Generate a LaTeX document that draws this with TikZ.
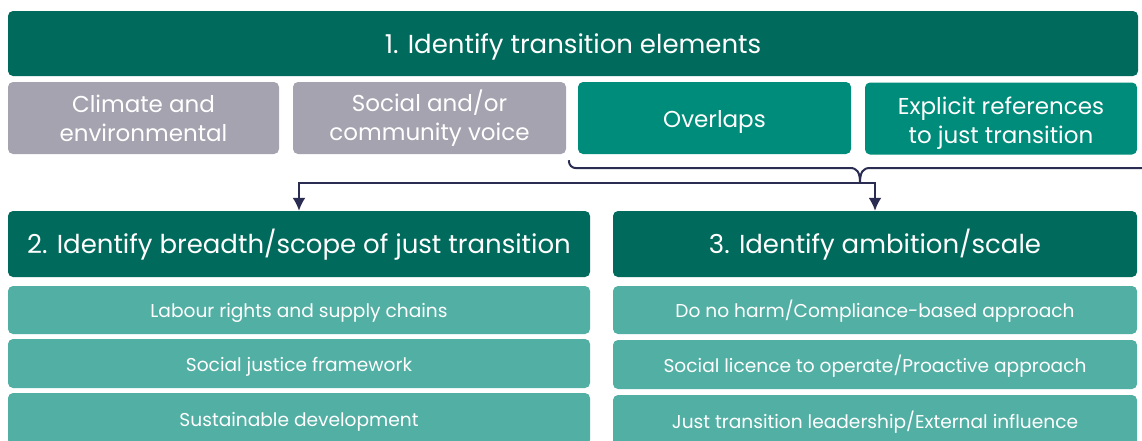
\documentclass[tikz,border=0pt]{standalone}
\usepackage{fontspec}
\setmainfont{Poppins}
\usetikzlibrary{arrows.meta}
\definecolor{darkteal}{HTML}{006B5C}
\definecolor{midteal}{HTML}{008C7A}
\definecolor{lightteal}{HTML}{52AFA4}
\definecolor{greybox}{HTML}{A4A3AF}
\definecolor{navy}{HTML}{2A2C52}
\tikzset{
  >={Latex[length=13pt,width=13pt]},
}
\tikzstyle{box}=[rounded corners=5pt,inner sep=0pt,text=white,align=center]
\tikzstyle{title}=[box,fill=darkteal,font=\fontsize{26}{30}\selectfont,text height=21pt,text depth=2pt]
\tikzstyle{element}=[box,font=\fontsize{23}{29}\selectfont,minimum height=72pt]
\tikzstyle{overlap}=[element,fill=midteal]
\tikzstyle{option}=[box,fill=lightteal,font=\fontsize{18.6}{22}\selectfont,text height=17pt,text depth=1.5pt]
\tikzstyle{link}=[navy,line width=2pt]

\begin{document}
\begin{tikzpicture}[x=1pt,y=-1pt]
      \useasboundingbox (0,0) rectangle (1142,440);
      % step 1 and its elements
      \node[title,minimum width=1130pt,minimum height=65pt] (elements) at (573,43.5) {1. Identify transition elements};
      \node[element,fill=greybox,minimum width=271pt] (climate) at (143.5,118) {Climate and\\environmental};
      \node[element,fill=greybox,minimum width=273pt] (social) at (429.5,118) {Social and/or\\community voice};
      \node[overlap,text height=25pt,minimum width=273pt] (overlaps) at (714.5,118) {Overlaps};
      \node[overlap,text height=56pt,minimum width=272pt] (explicit) at (1001,118.5) {Explicit references\\to just transition};
      % steps 2 and 3
      \node[title,minimum width=582pt,minimum height=66pt] (breadth) at (299,244) {2. Identify breadth/scope of just transition};
      \node[title,minimum width=524pt,minimum height=66pt] (ambition) at (875,244) {3. Identify ambition/scale};
      \node[option,minimum width=582pt,minimum height=48pt] (labour) at (299,310) {Labour rights and supply chains};
      \node[option,minimum width=582pt,minimum height=49pt] (justice) at (299,363.5) {Social justice framework};
      \node[option,minimum width=582pt,minimum height=52pt] (development) at (299,419) {Sustainable development};
      \node[option,minimum width=524pt,minimum height=48pt] (noharm) at (875,310) {Do no harm/Compliance-based approach};
      \node[option,minimum width=524pt,minimum height=49pt] (licence) at (875,364.5) {Social licence to operate/Proactive approach};
      \node[option,minimum width=524pt,minimum height=52pt] (leadership) at (875,421) {Just transition leadership/External influence};
      % brace under the two teal elements
      \coordinate (bracestart) at ([xshift=-9pt,yshift=-6pt]overlaps.south west);
      \coordinate (tip) at (860,183);
      \coordinate (braceend) at (1150,168);
      \draw[link] (bracestart) .. controls +(0,5) and +(-5,0) .. +(8,8) -- (850,168)
        .. controls (857,168) and (860,172) .. (tip)
        .. controls (860,172) and (863,168) .. (870,168) -- (braceend);
      \draw[link,->] (tip) -| (breadth.north);
      \draw[link,->] (tip) -| (ambition.north);
    \end{tikzpicture}
\end{document}
